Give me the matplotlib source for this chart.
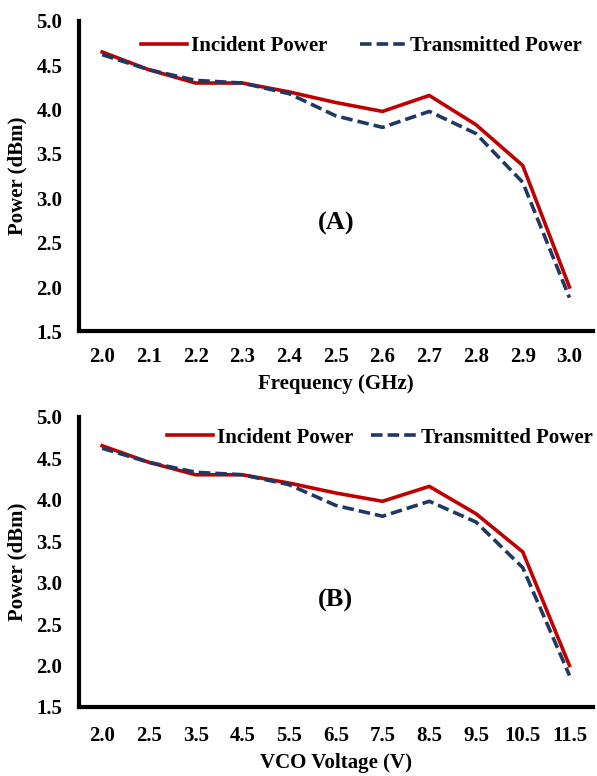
import matplotlib.pyplot as plt

# data (both panels share the same power readings)
freq_labels = ['2.0', '2.1', '2.2', '2.3', '2.4', '2.5', '2.6', '2.7', '2.8', '2.9', '3.0']
volt_labels = ['2.0', '2.5', '3.5', '4.5', '5.5', '6.5', '7.5', '8.5', '9.5', '10.5', '11.5']
incident = [4.65, 4.45, 4.30, 4.30, 4.20, 4.08, 3.98, 4.16, 3.83, 3.37, 2.00]
transmitted = [4.62, 4.45, 4.33, 4.30, 4.18, 3.93, 3.80, 3.98, 3.73, 3.18, 1.88]
yticks = [1.5, 2.0, 2.5, 3.0, 3.5, 4.0, 4.5, 5.0]

plt.rcParams['font.family'] = ['Liberation Serif', 'DejaVu Serif']
plt.rcParams['font.weight'] = 'bold'

fig = plt.figure(figsize=(5.97, 7.76), dpi=100)
ax_a = fig.add_axes([0.132, 0.573, 0.861, 0.400])
ax_b = fig.add_axes([0.132, 0.089, 0.861, 0.374])

# axis, tick labels, x label, panel tag, tag y, x tick pad, legend x, legend y, col spacing
panels = [(ax_a, freq_labels, 'Frequency (GHz)', '(A)', 2.72, 11, 0.121, 0.919, 1.55),
          (ax_b, volt_labels, 'VCO Voltage (V)', '(B)', 2.79, 14, 0.172, 0.928, 0.85)]

for ax, labels, xlabel, tag, tag_y, xpad, lx, ly, cs in panels:
    x = list(range(len(labels)))
    ax.plot(x, incident, color='#C00000', lw=2.6, label='Incident Power')
    ax.plot(x, transmitted, color='#1F3864', lw=2.6, ls=(0, (3.2, 1.4)), label='Transmitted Power')
    ax.set_xlim(-0.5, 10.5)
    ax.set_ylim(1.5, 5.0)
    ax.set_yticks(yticks)
    ax.set_yticklabels([f'{v:.1f}' for v in yticks])
    ax.set_xticks(x)
    ax.set_xticklabels(labels)
    ax.tick_params(length=0, labelsize=15)
    ax.tick_params(axis='y', pad=12)
    ax.tick_params(axis='x', pad=xpad)
    for s in ['top', 'right']:
        ax.spines[s].set_visible(False)
    for s in ['left', 'bottom']:
        ax.spines[s].set_linewidth(3)
    ax.set_xlabel(xlabel, fontsize=15, fontweight='bold', labelpad=5)
    ax.set_ylabel('Power (dBm)', fontsize=15, fontweight='bold', labelpad=6)
    ax.text(5, tag_y, tag, fontsize=19, fontweight='bold', ha='center', va='center')
    ax.legend(loc='center left', bbox_to_anchor=(lx, ly), ncol=2, frameon=False,
              borderpad=0, borderaxespad=0, fontsize=15, handlelength=2.2,
              handletextpad=0.2, columnspacing=cs)

fig.savefig('out.png', dpi=100)
